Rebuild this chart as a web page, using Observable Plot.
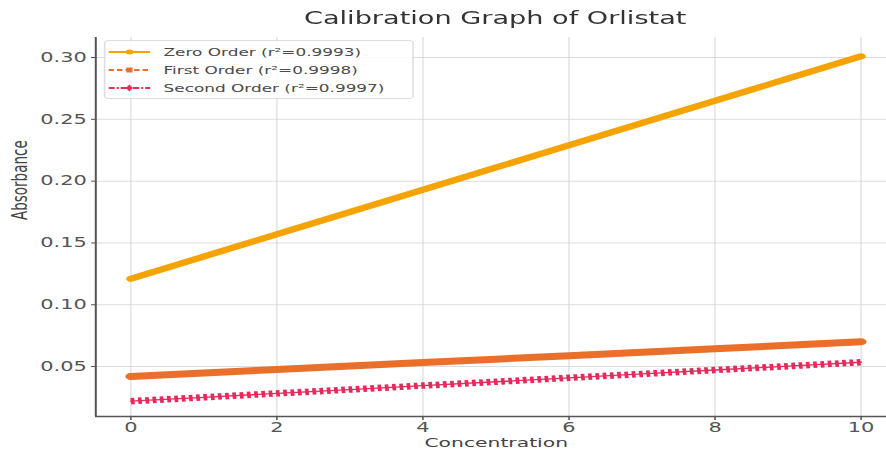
<!DOCTYPE html>
<html><head><meta charset="utf-8">
<script src="https://cdn.jsdelivr.net/npm/d3@7"></script>
<script src="https://cdn.jsdelivr.net/npm/@observablehq/plot@0.6"></script>
<style>
body{margin:0;background:#fff;font-family:"DejaVu Sans",sans-serif;}
#outer{position:relative;width:886px;height:451px;overflow:hidden;background:#fff}
#wrap{position:absolute;left:0;top:0;width:572px;height:451px;transform:scaleX(1.55);transform-origin:0 0}
#title{position:absolute;left:0;width:639px;top:8px;text-align:center;font-size:17.5px;color:#333}
#legend{position:absolute;left:66.5px;top:40px;width:200px;height:59px;border:1px solid #ddd;border-radius:3px;background:rgba(255,255,255,0.85);box-sizing:border-box;padding-top:2px}
.row{display:flex;align-items:center;height:18px;font-size:10.9px;color:#4a4a4a}
.row svg{margin-left:2px;margin-right:9px}
</style></head>
<body>
<div id="outer"><div id="wrap">
<div id="chart"></div>
<div id="title">Calibration Graph of Orlistat</div>
<div id="legend"></div>
</div></div>
<script>
// Data
const concentration = [0, 1, 2, 3, 4, 5, 6, 7, 8, 9, 10];
const zeroOrder   = [0.121, 0.139, 0.157, 0.175, 0.193, 0.211, 0.229, 0.247, 0.265, 0.283, 0.301];
const firstOrder  = [0.0420, 0.0448, 0.0476, 0.0504, 0.0532, 0.0560, 0.0588, 0.0616, 0.0644, 0.0672, 0.0700];
const secondOrder = [0.0220, 0.0251, 0.0283, 0.0314, 0.0346, 0.0377, 0.0409, 0.0440, 0.0472, 0.0503, 0.0535];
const seriesNames = ["Zero Order (r²=0.9993)", "First Order (r²=0.9998)", "Second Order (r²=0.9997)"];
const seriesColors = ["#f5a300", "#ea6f2a", "#e62a5c"];
const xTicks = [0, 2, 4, 6, 8, 10];
const yTicks = [0.05, 0.10, 0.15, 0.20, 0.25, 0.30];

const xDomain = [-0.48, 10.36];
const yDomain = [0.0096, 0.3162];

const mk = (ys) => concentration.map((c, i) => ({x: c, y: ys[i]}));
const z = mk(zeroOrder), f = mk(firstOrder), s = mk(secondOrder);

const chart = Plot.plot({
  width: 572, height: 451,
  marginLeft: 61.3, marginRight: 0, marginTop: 37, marginBottom: 35,
  style: {fontFamily: "DejaVu Sans, sans-serif", background: "white"},
  x: {domain: xDomain},
  y: {domain: yDomain},
  marks: [
    Plot.gridX(xTicks, {stroke: "#d0d0d0", strokeOpacity: 0.6}),
    Plot.gridY(yTicks, {stroke: "#d0d0d0", strokeOpacity: 0.7}),
    Plot.axisX(xTicks, {tickSize: 4, tickPadding: 1.5, fontSize: 13.5, fill: "#555", stroke: "#555", label: null}),
    Plot.axisY(yTicks, {tickSize: 2.6, tickPadding: 3.2, fontSize: 13.5, fill: "#555", stroke: "#555", tickFormat: d3.format(".2f"), label: null}),
    Plot.ruleX([xDomain[0]], {stroke: "#555", strokeWidth: 1.3}),
    Plot.ruleY([yDomain[0]], {stroke: "#555", strokeWidth: 1.5}),
    Plot.line(z, {x: "x", y: "y", stroke: seriesColors[0], strokeWidth: 6, strokeLinecap: "round"}),
    Plot.line(f, {x: "x", y: "y", stroke: seriesColors[1], strokeWidth: 7, strokeLinecap: "round"}),
    Plot.line(s, {x: "x", y: "y", stroke: seriesColors[2], strokeWidth: 1.3}),
    Plot.line(s, {x: "x", y: "y", stroke: seriesColors[2], strokeWidth: 6.5, strokeDasharray: "2.4,2.3", strokeLinecap: "butt"}),
    Plot.text(["Absorbance"], {frameAnchor: "left", dx: -48.4, dy: -7, rotate: -90, fontSize: 13.5, fill: "#444"}),
    Plot.text(["Concentration"], {frameAnchor: "bottom", dx: 3, dy: 30.5, fontSize: 13.1, fill: "#444"})
  ]
});
document.getElementById("chart").appendChild(chart);

// legend
const leg = document.getElementById("legend");
const markers = ["circle", "square", "diamond"];
const dashes = [null, "3.5,2", "4,1.3,1.3,1.3"];
seriesNames.forEach((name, i) => {
  const row = document.createElement("div");
  row.className = "row";
  const c = seriesColors[i];
  let m = "";
  if (markers[i] === "circle") m = `<circle cx="13.5" cy="6" r="2.5" fill="${c}"/>`;
  if (markers[i] === "square") m = `<rect x="11.5" y="3.5" width="4" height="5" fill="${c}"/>`;
  if (markers[i] === "diamond") m = `<path d="M13.5 2.5 L15.8 6 L13.5 9.5 L11.2 6Z" fill="${c}"/>`;
  row.innerHTML = `<svg width="27" height="12"><line x1="0" y1="6" x2="27" y2="6" stroke="${c}" stroke-width="2" ${dashes[i] ? `stroke-dasharray="${dashes[i]}"` : ""}/>${m}</svg><span>${name}</span>`;
  leg.appendChild(row);
});
</script>
</body></html>
